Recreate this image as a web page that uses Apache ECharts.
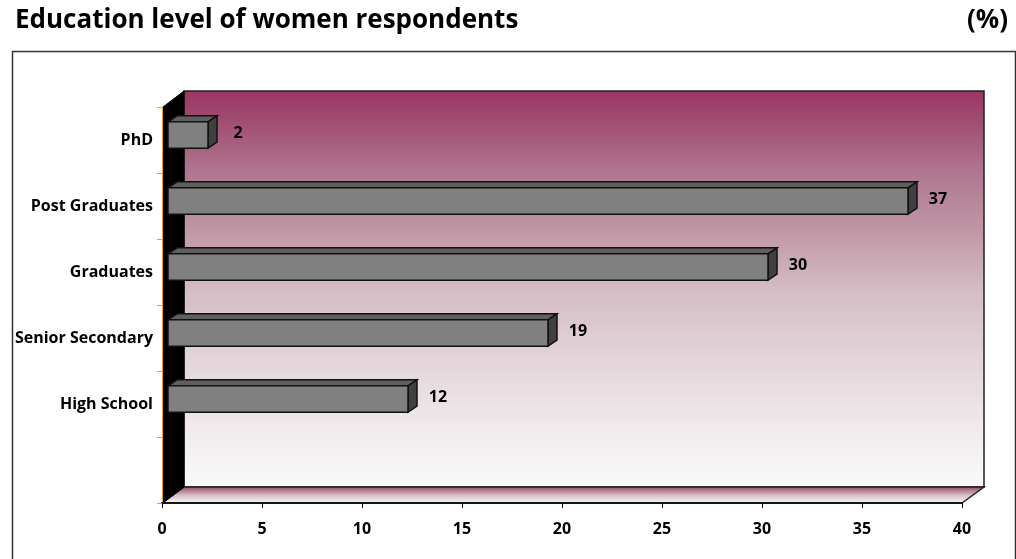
<!DOCTYPE html>
<html>
<head>
<meta charset="utf-8">
<script src="https://cdn.jsdelivr.net/npm/echarts@6/dist/echarts.min.js"></script>
<style>html,body{margin:0;padding:0;background:#fff;}#chart{width:1016px;height:559px;}</style>
</head>
<body>
<div id="chart"></div>
<script>
const categories = ['PhD', 'Post Graduates', 'Graduates', 'Senior Secondary', 'High School', ''];
const values = [2, 37, 30, 19, 12, null];
const xMin = 0, xMax = 40, xStep = 5;
const titleText = 'Education level of women respondents';
const unitText = '(%)';

const FONT = '"Open Sans"';
const DEPTH = [22, -16];      // wall depth offset
const BAR_SHIFT = [6, -5];    // bar front plane offset
const BAR_DEPTH = [9, -6];    // bar depth

const chart = echarts.init(document.getElementById('chart'));

function wallGradient() {
  return new echarts.graphic.LinearGradient(0, 0, 0, 1, [
    { offset: 0, color: '#9c3466' },
    { offset: 0.08, color: '#a04e72' },
    { offset: 0.21, color: '#b07890' },
    { offset: 0.35, color: '#bf96a5' },
    { offset: 0.5, color: '#d4bcc3' },
    { offset: 0.67, color: '#e2d4d8' },
    { offset: 0.84, color: '#efe9eb' },
    { offset: 1, color: '#fafafa' }
  ]);
}

function renderWalls(params, api) {
  const cs = params.coordSys;
  const x = cs.x, y = cs.y, w = cs.width, h = cs.height;
  const dx = DEPTH[0], dy = DEPTH[1];
  return {
    type: 'group',
    children: [
      { type: 'rect', shape: { x: x + dx, y: y + dy, width: w, height: h },
        style: { fill: wallGradient(), stroke: '#222', lineWidth: 1.5 } },
      { type: 'polygon', shape: { points: [[x, y + h], [x + w, y + h], [x + w + dx, y + h + dy], [x + dx, y + h + dy]] },
        style: { fill: wallGradient(), stroke: '#222', lineWidth: 1.5 } },
      { type: 'polygon', shape: { points: [[x + 1, y], [x + dx, y + dy], [x + dx, y + h + dy], [x + 1, y + h]] },
        style: { fill: '#000', stroke: '#000', lineWidth: 1 } }
    ]
  };
}

function renderBar(params, api) {
  const v = api.value(0), c = api.value(1);
  const s = api.coord([0, c]), e = api.coord([v, c]);
  const band = api.size([0, 1])[1];
  const h = band * 0.4;
  const x0 = s[0] + BAR_SHIFT[0], x1 = e[0] + BAR_SHIFT[0];
  const yc = s[1] + BAR_SHIFT[1];
  const y0 = yc - h / 2, y1 = yc + h / 2;
  const dx = BAR_DEPTH[0], dy = BAR_DEPTH[1];
  return {
    type: 'group',
    children: [
      { type: 'polygon', shape: { points: [[x0, y0], [x1, y0], [x1 + dx, y0 + dy], [x0 + dx, y0 + dy]] },
        style: { fill: '#5f5f5f', stroke: '#111', lineWidth: 1.5 } },
      { type: 'polygon', shape: { points: [[x1, y0], [x1 + dx, y0 + dy], [x1 + dx, y1 + dy], [x1, y1]] },
        style: { fill: '#404040', stroke: '#111', lineWidth: 1.5 } },
      { type: 'rect', shape: { x: x0, y: y0, width: x1 - x0, height: h },
        style: { fill: '#808080', stroke: '#111', lineWidth: 1.5 } },
      { type: 'text', style: { text: String(v), x: x1 + 30, y: yc - 2, align: 'center', verticalAlign: 'middle',
        font: 'bold 16px ' + FONT, fill: '#000' } }
    ]
  };
}

const barData = [];
values.forEach((v, i) => { if (v != null) barData.push([v, i]); });

chart.setOption({
  animation: false,
  backgroundColor: '#fff',
  title: [
    { text: titleText, left: 10, top: 3, textStyle: { fontFamily: FONT, fontWeight: 'bold', fontSize: 26, color: '#000' } },
    { text: unitText, right: 3, top: 3, textStyle: { fontFamily: FONT, fontWeight: 'bold', fontSize: 26, color: '#000' } }
  ],
  graphic: [
    { type: 'rect', left: 10, top: 49, shape: { width: 1003, height: 520 }, style: { fill: 'none', stroke: '#333', lineWidth: 1.5 }, z: 0 }
  ],
  grid: { left: 162, right: 54, top: 107, bottom: 56 },
  xAxis: {
    type: 'value', min: xMin, max: xMax, interval: xStep,
    splitLine: { show: false },
    axisLine: { show: true, lineStyle: { color: '#000', width: 1.5 } },
    axisTick: { show: true, length: 5, lineStyle: { color: '#000' } },
    axisLabel: { margin: 18, fontFamily: FONT, fontWeight: 'bold', fontSize: 16, color: '#000' },
    z: 10
  },
  yAxis: {
    type: 'category', data: categories, inverse: true,
    axisLine: { show: true, lineStyle: { color: '#f39a1e', width: 1 } },
    axisTick: { show: true, length: 5, lineStyle: { color: '#f39a1e' } },
    axisLabel: { margin: 9, padding: [10, 0, 0, 0], fontFamily: FONT, fontWeight: 'bold', fontSize: 16, color: '#000' },
    z: 10
  },
  series: [
    { type: 'custom', renderItem: renderWalls, data: [[0, 0]], z: 1, silent: true },
    { type: 'custom', renderItem: renderBar, data: barData, z: 3, encode: { x: 0, y: 1 } }
  ]
});
</script>
</body>
</html>
